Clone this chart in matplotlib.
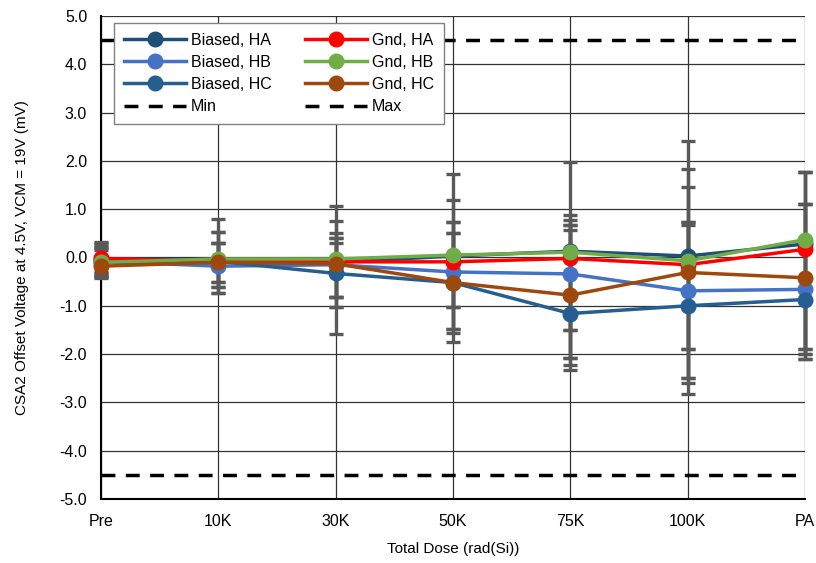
import numpy as np
import matplotlib
matplotlib.use("Agg")
import matplotlib.pyplot as plt

plt.rcParams['font.family'] = ['Liberation Sans', 'DejaVu Sans']

# Data ---------------------------------------------------------------------------------------
doses = ["Pre", "10K", "30K", "50K", "75K", "100K", "PA"]

biased_ha = [-0.03, -0.05, -0.10, 0.03, 0.13, 0.03, 0.28]
biased_hb = [-0.08, -0.18, -0.15, -0.30, -0.34, -0.69, -0.66]
biased_hc = [-0.10, -0.08, -0.33, -0.52, -1.16, -1.00, -0.87]
gnd_ha = [-0.02, -0.08, -0.09, -0.09, -0.02, -0.15, 0.17]
gnd_hb = [-0.10, -0.03, -0.03, 0.05, 0.11, -0.07, 0.37]
gnd_hc = [-0.18, -0.10, -0.13, -0.52, -0.78, -0.31, -0.42]

# upper / lower error-bar limits (absolute values, mV)
biased_ha_hi = [0.30, 0.52, 0.50, 0.73, 0.88, 1.45, 1.10]
biased_ha_lo = [-0.36, -0.62, -0.81, -1.03, -1.50, -1.90, -1.90]
biased_hb_hi = [0.25, 0.29, 0.40, 0.50, 0.67, 0.67, 1.10]
biased_hb_lo = [-0.40, -0.74, -1.02, -1.49, -2.09, -2.50, -2.00]
biased_hc_hi = [0.33, 0.80, 1.06, 1.20, 0.57, 0.74, 1.76]
biased_hc_lo = [-0.42, -0.74, -1.58, -1.74, -2.33, -2.83, -2.10]
gnd_ha_hi = [0.20, 0.29, 0.29, 0.73, 0.78, 1.83, 1.76]
gnd_ha_lo = [-0.30, -0.50, -0.81, -1.03, -1.50, -1.90, -1.90]
gnd_hb_hi = [0.22, 0.52, 0.75, 1.73, 1.98, 2.42, 1.76]
gnd_hb_lo = [-0.33, -0.50, -0.81, -1.56, -2.23, -2.60, -2.00]
gnd_hc_hi = [0.15, 0.29, 0.40, 0.50, 0.67, 0.74, 1.10]
gnd_hc_lo = [-0.38, -0.62, -1.02, -1.49, -2.09, -2.50, -2.10]

spec_min = -4.5
spec_max = 4.5

series = [
    ("Biased, HA", biased_ha, biased_ha_lo, biased_ha_hi, "#1F4E79"),
    ("Biased, HB", biased_hb, biased_hb_lo, biased_hb_hi, "#4472C4"),
    ("Biased, HC", biased_hc, biased_hc_lo, biased_hc_hi, "#255E91"),
    ("Gnd, HA", gnd_ha, gnd_ha_lo, gnd_ha_hi, "#FF0000"),
    ("Gnd, HB", gnd_hb, gnd_hb_lo, gnd_hb_hi, "#70AD47"),
    ("Gnd, HC", gnd_hc, gnd_hc_lo, gnd_hc_hi, "#9E480E"),
]

# Plot ---------------------------------------------------------------------------------------
fig = plt.figure(figsize=(8.16, 5.63), dpi=100)
ax = fig.add_axes([0.1238, 0.1137, 0.8627, 0.8579])

x = np.arange(len(doses))

# error bars first (all gray), drawn under the lines
for name, y, lo, hi, col in series:
    y = np.array(y)
    yerr = [y - np.array(lo), np.array(hi) - y]
    _, caps, bars = ax.errorbar(x, y, yerr=yerr, fmt='none', ecolor='#595959',
                                elinewidth=2.4, capsize=5, capthick=2.4, zorder=3)
    for c in caps:
        c.set_clip_on(False)
    for b in bars:
        b.set_clip_on(False)

handles = []
for name, y, lo, hi, col in series:
    h, = ax.plot(x, y, color=col, lw=2.5, marker='o', ms=10.5,
                 label=name, zorder=4, clip_on=False)
    handles.append(h)

hmin = ax.axhline(spec_min, color='black', lw=2.5, ls=(0, (4, 3)),
                  label='Min', zorder=2)
hmax = ax.axhline(spec_max, color='black', lw=2.5, ls=(0, (4, 3)),
                  label='Max', zorder=2)

ax.set_xlim(0, len(doses) - 1)
ax.set_ylim(-5, 5)
ax.set_xticks(x)
ax.set_xticklabels(doses)
ax.set_yticks(np.arange(-5, 6, 1))
ax.set_yticklabels([f"{v:.1f}" for v in np.arange(-5, 6, 1)])
ax.tick_params(axis='x', length=0, labelsize=11.5, pad=11)
ax.tick_params(axis='y', length=0, labelsize=11.5, pad=10)

ax.grid(True, color='#333333', lw=0.9, zorder=0)
ax.set_axisbelow(True)
for s in ['top', 'right']:
    ax.spines[s].set_visible(False)
ax.spines['left'].set_linewidth(1.5)
ax.spines['bottom'].set_linewidth(1.5)

ax.set_xlabel("Total Dose (rad(Si))", fontsize=11, labelpad=9)
ax.set_ylabel("CSA2 Offset Voltage at 4.5V, VCM = 19V (mV)", fontsize=11, labelpad=22)

order = handles[:3] + [hmin] + handles[3:] + [hmax]
leg = ax.legend(order, [h.get_label() for h in order], ncol=2, loc='upper left',
                bbox_to_anchor=(0.0185, 0.9855), borderaxespad=0, fontsize=11.5,
                frameon=True, fancybox=False, edgecolor='#808080', framealpha=1,
                handlelength=3.9, columnspacing=2.1, borderpad=0.6,
                labelspacing=0.45, handletextpad=0.3)
leg.get_frame().set_linewidth(1.0)
leg.set_zorder(10)

fig.savefig("out.png", dpi=100)
